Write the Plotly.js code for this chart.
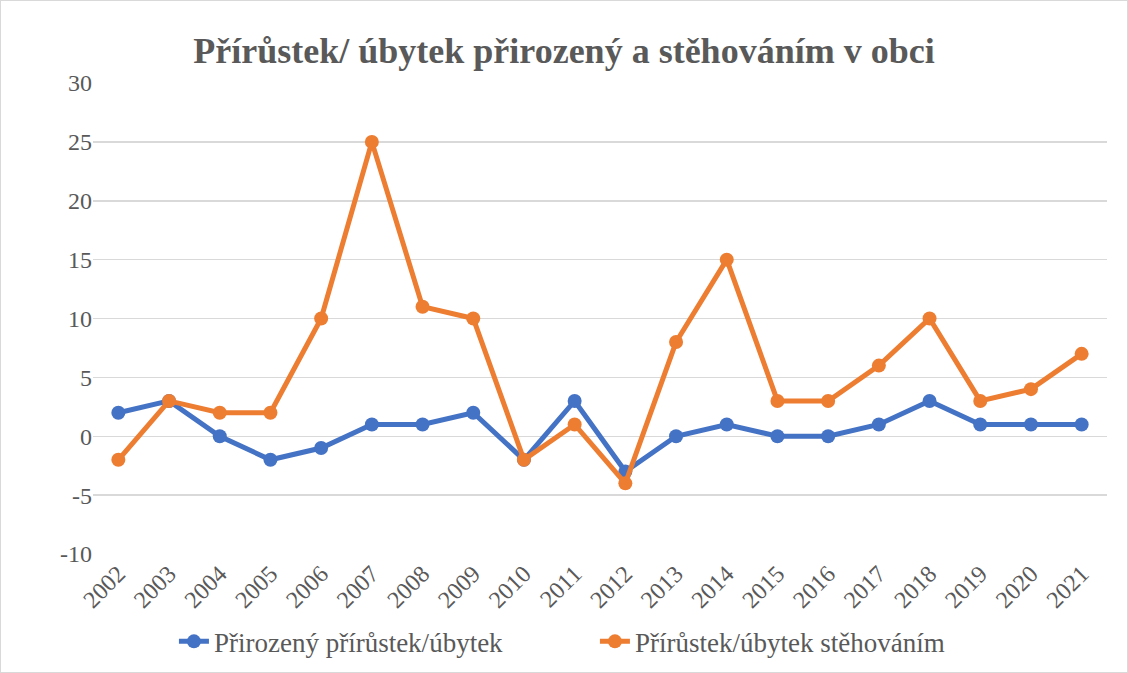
<!DOCTYPE html>
<html><head><meta charset="utf-8">
<script src="https://cdn.plot.ly/plotly-3.0.1.min.js"></script>
<style>html,body{margin:0;padding:0;background:#fff}#c{width:1128px;height:673px;box-sizing:border-box;border:1px solid #d9d9d9}</style>
</head><body><div id="c"></div>
<script>
const years = ["2002","2003","2004","2005","2006","2007","2008","2009","2010","2011","2012","2013","2014","2015","2016","2017","2018","2019","2020","2021"];
const prirozeny = [2, 3, 0, -2, -1, 1, 1, 2, -2, 3, -3, 0, 1, 0, 0, 1, 3, 1, 1, 1];
const stehovanim = [-2, 3, 2, 2, 10, 25, 11, 10, -2, 1, -4, 8, 15, 3, 3, 6, 10, 3, 4, 7];
const seriesNames = ["Přirozený přírůstek/úbytek", "Přírůstek/úbytek stěhováním"];
const titleText = "Přírůstek/ úbytek přirozený a stěhováním v obci";
const yTickVals = [-10, -5, 0, 5, 10, 15, 20, 25, 30];
const yTickText = ["-10", "-5", "0", "5", "10", "15", "20", "25", "30"];

const font = "'Liberation Serif', 'DejaVu Serif', serif";
const traces = [
  {x: years, y: prirozeny, name: seriesNames[0], type: "scatter", mode: "lines+markers",
   line: {color: "#4472C4", width: 5}, marker: {color: "#4472C4", size: 14}},
  {x: years, y: stehovanim, name: seriesNames[1], type: "scatter", mode: "lines+markers",
   line: {color: "#ED7D31", width: 5}, marker: {color: "#ED7D31", size: 14}}
];
const layout = {
  width: 1126, height: 671,
  margin: {l: 92, r: 20, t: 82, b: 118},
  paper_bgcolor: "#fff", plot_bgcolor: "#fff",
  font: {family: font, color: "#595959", size: 23},
  title: {text: "<b>" + titleText + "</b>", font: {family: font, size: 36, color: "#595959"}, x: 0.5, xanchor: "center", y: 0.927, yanchor: "middle"},
  xaxis: {type: "category", range: [-0.5, 19.5], tickangle: -45, showgrid: false, zeroline: false, showline: false, automargin: false,
          ticks: "", tickfont: {size: 24, family: font, color: "#595959"}, fixedrange: true},
  yaxis: {range: [-10, 30], tickmode: "array", tickvals: yTickVals, ticktext: yTickText, showgrid: true, gridcolor: "#D9D9D9", gridwidth: 1.5, zeroline: false,
          showline: false, ticks: "", ticklen: 0, automargin: false, tickfont: {size: 24, family: font, color: "#595959"}, fixedrange: true},
  showlegend: true,
  legend: {orientation: "h", x: 0.495, xanchor: "center", yref: "container", y: 0.045, yanchor: "middle", font: {size: 27, family: font, color: "#595959"},
           tracegroupgap: 0, entrywidth: 376, entrywidthmode: "pixels"}
};
Plotly.newPlot("c", traces, layout, {displayModeBar: false, staticPlot: true});
</script></body></html>
